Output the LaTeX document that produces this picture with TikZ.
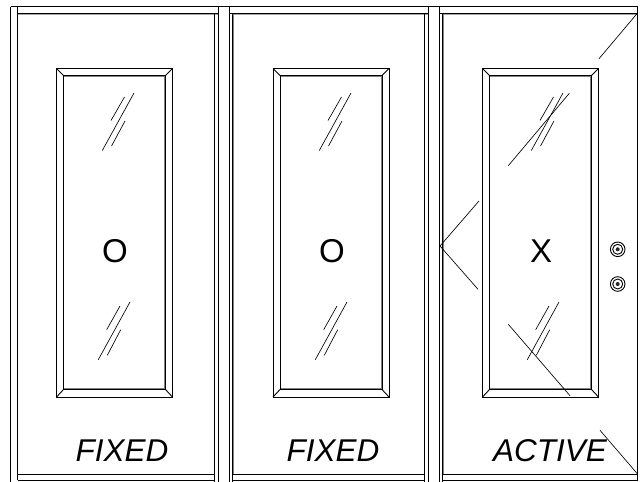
\documentclass[tikz,border=0pt]{standalone}
\usepackage{fontspec}
\setmainfont{Liberation Sans}
\tikzset{
  ink/.style={draw=black,line width=0.9pt,line cap=butt},
  thin ink/.style={draw=black,line width=0.65pt},
  shade line/.style={draw=black!50,line width=1pt},
  pale line/.style={draw=black!35,line width=1pt},
  door label/.style={font=\fontsize{31.5}{31.5}\selectfont\itshape,anchor=base,inner sep=0pt},
  mark label/.style={font=\fontsize{33}{33}\selectfont,anchor=base,inner sep=0pt}
}
\newcommand{\doorwindow}[2]{%
  \begin{scope}[shift={(#1,0)}]
    \draw[shade line] (63.5,76.5) -- (165.5,76.5);
    \draw[shade line] (63.5,388.7) -- (165.5,388.7);
    \draw[shade line] (164.5,75.5) -- (164.5,389.5);
    \draw[ink] (56.5,68.5) rectangle (172.5,397);
    \draw[ink] (63.5,75.5) rectangle (165.5,389.5);
    \draw[ink] (56.5,68.5) -- (63.5,75.5) (172.5,68.5) -- (165.5,75.5)
               (56.5,397) -- (63.5,389.5) (172.5,397) -- (165.5,389.5);
  \end{scope}
  \begin{scope}[shift={(#2,0)}]
    \draw[thin ink] (102.3,150.5) -- (134,93) (111,120.5) -- (124.5,97) (111.5,146) -- (125,121);
    \draw[thin ink] (98.3,359.7) -- (130,302) (106.7,329.7) -- (120,306) (107.3,355.3) -- (120.7,329.7);
  \end{scope}}
\begin{document}
\begin{tikzpicture}[x=1pt,y=-1pt]
  \useasboundingbox (0,0) rectangle (640,482);
  \fill[white] (0,0) rectangle (640,482);
  % frame shading
  \draw[pale line] (17.5,14.5) -- (218,14.5) (232,14.5) -- (428,14.5) (442,14.5) -- (637,14.5);
  \draw[shade line] (233,14) -- (233,474) (443,14) -- (443,474) (424,14) -- (424,474) (214.5,14) -- (214.5,474);
  % frame
  \draw[ink] (10.5,6.5) -- (637.5,6.5);
  \draw[ink] (17.5,13.5) -- (218.5,13.5) (229.5,13.5) -- (428.5,13.5) (439.5,13.5) -- (637.5,13.5);
  \draw[ink] (17.5,474) -- (214.5,474) (232.5,474) -- (424.5,474) (442.5,474) -- (637.5,474);
  \draw[ink] (17.5,480) -- (214.5,480) (232.5,480) -- (424.5,480) (442.5,480) -- (637.5,480);
  \draw[ink] (10.5,6.5) -- (10.5,482) (17.5,6.5) -- (17.5,480);
  \draw[ink] (218.5,6.5) -- (218.5,482) (229.5,6.5) -- (229.5,482);
  \draw[ink] (428.5,6.5) -- (428.5,482) (439.5,6.5) -- (439.5,482);
  \draw[ink] (214.5,13.5) -- (214.5,482) (232.5,13.5) -- (232.5,482);
  \draw[ink] (424.5,13.5) -- (424.5,482) (442.5,13.5) -- (442.5,482);
  \draw[ink] (637.5,6.5) -- (637.5,480);
  % windows
  \doorwindow{0}{0}
  \doorwindow{216.5}{217}
  \doorwindow{426}{429}
  % swing lines
  \draw[thin ink] (508.3,165.7) -- (569.3,93.3) (599,58.7) -- (637.3,13.3);
  \draw[thin ink] (508.3,324.3) -- (570,395.7) (600,430.3) -- (637.3,473.7);
  \draw[thin ink] (479,201) -- (440,246) -- (478,289.3);
  % knobs
  \foreach \ky in {249.3,284}{
    \draw[draw=black,line width=0.9pt] (617.7,\ky) circle (7.3);
    \draw[draw=black,line width=0.9pt] (617.7,\ky) circle (5);
    \fill[black!85] (617.7,\ky) circle (2);
  }
  % labels
  \node[mark label] (ma) at (115,262) {O};
  \node[mark label] (mb) at (332,262) {O};
  \node[mark label] (mc) at (541,262) {X};
  \node[door label] (la) at (122,461.5) {FIXED};
  \node[door label] (lb) at (333,461.5) {FIXED};
  \node[door label] (lc) at (550,461.5) {ACTIVE};
\end{tikzpicture}
\end{document}
